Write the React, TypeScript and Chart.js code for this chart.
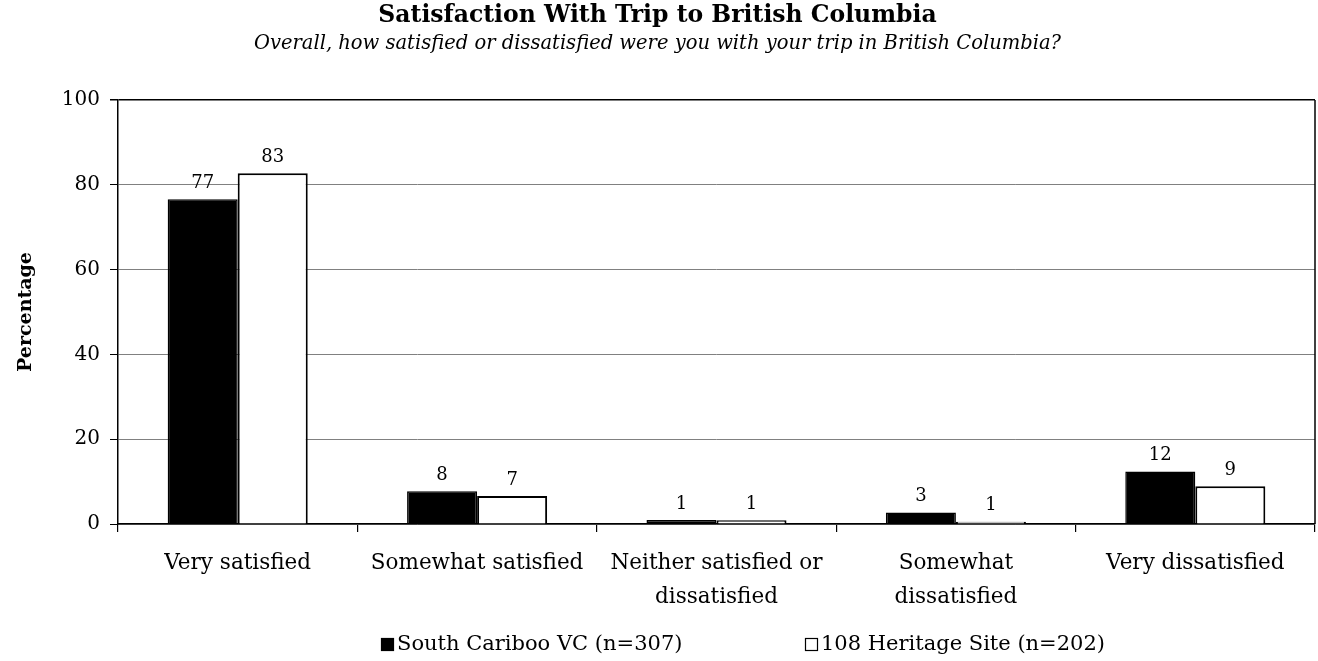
import React, { useEffect, useRef } from 'react';
import { Chart, registerables } from 'chart.js';

Chart.register(...registerables);

const categories: string[][] = [
  ['Very satisfied'],
  ['Somewhat satisfied'],
  ['Neither satisfied or', 'dissatisfied'],
  ['Somewhat', 'dissatisfied'],
  ['Very dissatisfied'],
];
const southCaribooValues = [76.6, 7.7, 0.95, 2.7, 12.4];
const heritageValues = [82.7, 6.6, 0.9, 0.55, 8.9];
const southCaribooLabel = 'South Cariboo VC (n=307)';
const heritageLabel = '108 Heritage Site (n=202)';
const yMin = 0;
const yMax = 100;
const yStep = 20;

const titleText = 'Satisfaction With Trip to British Columbia';
const subtitleText = 'Overall, how satisfied or dissatisfied were you with your trip in British Columbia?';
const yTitle = 'Percentage';

const FONT = "'DejaVu Serif', 'Liberation Serif', serif";

const valueLabelPlugin = {
  id: 'valueLabels',
  afterDatasetsDraw(chart: any) {
    const ctx = chart.ctx;
    ctx.save();
    ctx.font = `18px ${FONT}`;
    ctx.fillStyle = '#000';
    ctx.textAlign = 'center';
    ctx.textBaseline = 'bottom';
    chart.data.datasets.forEach((ds: any, di: number) => {
      const meta = chart.getDatasetMeta(di);
      meta.data.forEach((el: any, i: number) => {
        const v = ds.data[i];
        ctx.fillText(String(Math.round(v)), el.x, el.y - 7);
      });
    });
    ctx.restore();
  },
};

const frameLegendPlugin = {
  id: 'frameLegend',
  afterDraw(chart: any) {
    const ctx = chart.ctx;
    const a = chart.chartArea;
    ctx.save();
    ctx.strokeStyle = '#000';
    ctx.lineWidth = 1.5;
    ctx.beginPath();
    ctx.moveTo(a.right, a.top);
    ctx.lineTo(a.right, a.bottom);
    ctx.stroke();

    const y = chart.height - 16;
    ctx.font = `21px ${FONT}`;
    ctx.textBaseline = 'middle';
    ctx.textAlign = 'left';
    const items = [
      { label: chart.data.datasets[0].label, fill: '#000', x: 381 },
      { label: chart.data.datasets[1].label, fill: '#fff', x: 805 },
    ];
    items.forEach((it) => {
      ctx.fillStyle = it.fill;
      ctx.fillRect(it.x, y - 7, 13, 13);
      ctx.strokeStyle = '#000';
      ctx.lineWidth = 1.2;
      ctx.strokeRect(it.x + 0.5, y - 6.5, 12, 12);
      ctx.fillStyle = '#000';
      ctx.fillText(it.label, it.x + 16, y);
    });
    ctx.restore();
  },
};

export default function App() {
  const canvasRef = useRef<HTMLCanvasElement | null>(null);

  useEffect(() => {
    document.body.style.margin = '0';
    const canvas = canvasRef.current;
    if (!canvas) return;
    const chart = new Chart(canvas, {
      type: 'bar',
      data: {
        labels: categories,
        datasets: [
          {
            label: southCaribooLabel,
            data: southCaribooValues,
            backgroundColor: '#000',
            borderColor: '#000',
            borderWidth: 1.5,
          },
          {
            label: heritageLabel,
            data: heritageValues,
            backgroundColor: '#fff',
            borderColor: '#000',
            borderWidth: 2,
          },
        ],
      },
      options: {
        responsive: false,
        animation: false,
        layout: { padding: { left: 0, right: 3, top: 0, bottom: 42 } },
        datasets: {
          bar: { categoryPercentage: 0.585, barPercentage: 1 },
        },
        plugins: {
          legend: { display: false },
          tooltip: { enabled: false },
          title: {
            display: true,
            text: titleText,
            color: '#000',
            font: { family: FONT, size: 23.5, weight: 'bold' },
            padding: { top: 2, bottom: 0 },
          },
          subtitle: {
            display: true,
            text: subtitleText,
            color: '#000',
            font: { family: FONT, size: 19.5, style: 'italic' },
            padding: { top: 2, bottom: 44.4 },
          },
        },
        scales: {
          x: {
            afterFit: (scale: any) => {
              scale.height = 95;
            },
            grid: {
              display: true,
              offset: true,
              drawOnChartArea: false,
              drawTicks: true,
              tickLength: 8,
              color: '#000',
              lineWidth: 1.2,
            },
            border: { display: true, color: '#000', width: 1.5 },
            ticks: {
              color: '#000',
              font: { family: FONT, size: 21.5, lineHeight: 1.55 },
              padding: 15,
              maxRotation: 0,
              autoSkip: false,
            },
          },
          y: {
            min: yMin,
            max: yMax,
            afterFit: (scale: any) => {
              scale.width = 118;
            },
            ticks: {
              stepSize: yStep,
              color: '#000',
              font: { family: FONT, size: 20 },
              padding: 10,
            },
            grid: {
              color: (c: any) => (c.tick && c.tick.value === yMax ? '#000' : '#808080'),
              lineWidth: (c: any) => (c.tick && c.tick.value === yMax ? 1.5 : 1),
              tickColor: '#000',
              tickLength: 8,
            },
            border: { display: true, color: '#000', width: 1.5 },
            title: {
              display: true,
              text: yTitle,
              color: '#000',
              font: { family: FONT, size: 19, weight: 'bold' },
              padding: { top: 15, bottom: 0 },
            },
          },
        },
      },
      plugins: [valueLabelPlugin, frameLegendPlugin],
    } as any);
    return () => chart.destroy();
  }, []);

  return (
    <div style={{ width: 1318, height: 661 }}>
      <canvas ref={canvasRef} width={1318} height={661} />
    </div>
  );
}
